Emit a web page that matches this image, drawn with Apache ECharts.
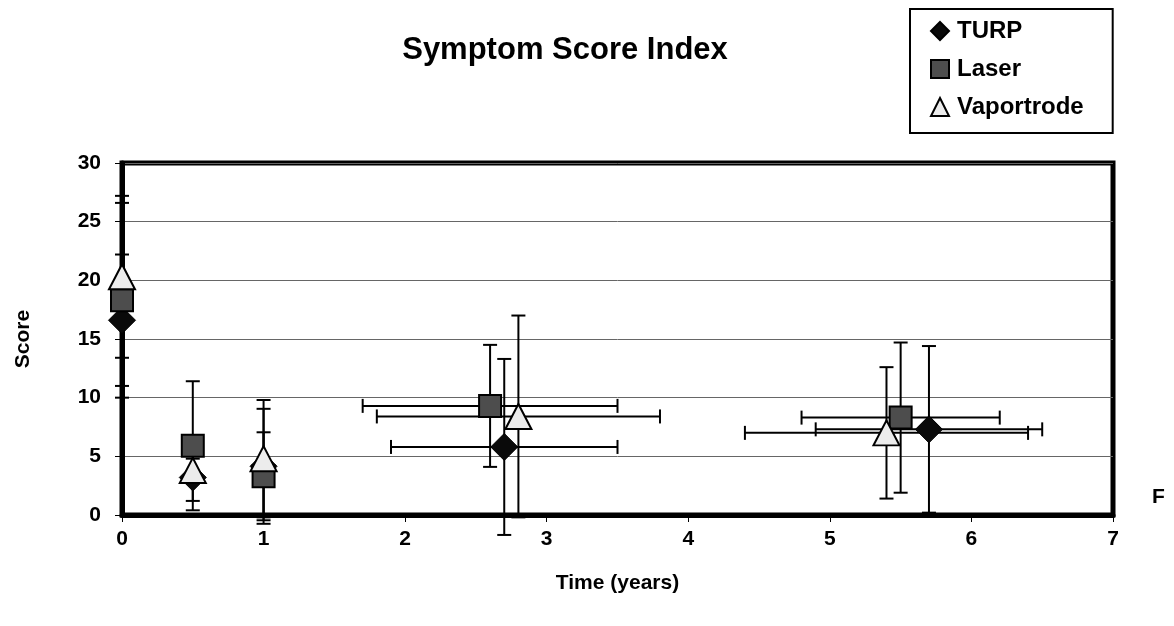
<!DOCTYPE html>
<html>
<head>
<meta charset="utf-8">
<script src="https://cdn.jsdelivr.net/npm/echarts@6/dist/echarts.min.js"></script>
<style>
  html, body { margin: 0; padding: 0; background: #fff; }
  #chart { width: 1174px; height: 626px; }
</style>
</head>
<body>
<div id="chart"></div>
<script>
// values
const seriesNames = ['TURP', 'Laser', 'Vaportrode'];

const turpX = [0, 0.5, 1, 2.7, 5.7];
const turpY = [16.6, 3.2, 4.15, 5.8, 7.3];
const turpYErr = [5.6, 2.0, 4.9, 7.5, 7.1];
const turpXErr = [0, 0, 0, 0.8, 0.8];

const laserX = [0, 0.5, 1, 2.6, 5.5];
const laserY = [18.3, 5.9, 3.3, 9.3, 8.3];
const laserYErr = [8.3, 5.5, 3.75, 5.2, 6.4];
const laserXErr = [0, 0, 0, 0.9, 0.7];

const vapX = [0, 0.5, 1, 2.8, 5.4];
const vapY = [20.3, 3.8, 4.8, 8.4, 7.0];
const vapYErr = [6.9, 1.0, 5.0, 8.6, 5.6];
const vapXErr = [0, 0, 0, 1.0, 1.0];

const xTicks = [0, 1, 2, 3, 4, 5, 6, 7];
const yTicks = [0, 5, 10, 15, 20, 25, 30];

const font = 'Liberation Sans, Arial, sans-serif';

function points(xs, ys) {
  return xs.map((x, i) => [x, ys[i]]);
}
function errPoints(xs, ys, xe, ye) {
  return xs.map((x, i) => [x, ys[i], xe[i], ye[i]]);
}

// vertical + horizontal error bars with caps
function renderErr(params, api) {
  const x = api.value(0), y = api.value(1), xe = api.value(2), ye = api.value(3);
  const st = { stroke: '#000', lineWidth: 2 };
  const kids = [];
  const cap = 7;
  if (ye > 0) {
    const top = api.coord([x, y + ye]);
    const bot = api.coord([x, y - ye]);
    kids.push({ type: 'line', shape: { x1: top[0], y1: top[1], x2: bot[0], y2: bot[1] }, style: st });
    kids.push({ type: 'line', shape: { x1: top[0] - cap, y1: top[1], x2: top[0] + cap, y2: top[1] }, style: st });
    kids.push({ type: 'line', shape: { x1: bot[0] - cap, y1: bot[1], x2: bot[0] + cap, y2: bot[1] }, style: st });
  }
  if (xe > 0) {
    const l = api.coord([x - xe, y]);
    const r = api.coord([x + xe, y]);
    kids.push({ type: 'line', shape: { x1: l[0], y1: l[1], x2: r[0], y2: r[1] }, style: st });
    kids.push({ type: 'line', shape: { x1: l[0], y1: l[1] - cap, x2: l[0], y2: l[1] + cap }, style: st });
    kids.push({ type: 'line', shape: { x1: r[0], y1: r[1] - cap, x2: r[0], y2: r[1] + cap }, style: st });
  }
  return { type: 'group', children: kids };
}

function errSeries(data) {
  return {
    type: 'custom',
    renderItem: renderErr,
    data: data,
    z: 2,
    clip: false,
    silent: true,
    encode: { x: 0, y: 1 }
  };
}

const chart = echarts.init(document.getElementById('chart'));

const options = {
  animation: false,
  backgroundColor: '#fff',
  title: {
    text: 'Symptom Score Index',
    left: 560,
    top: 30,
    textAlign: 'center',
    textStyle: { fontFamily: font, fontWeight: 'bold', fontSize: 31, color: '#000' }
  },
  legend: {
    data: seriesNames,
    orient: 'vertical',
    left: 910,
    top: 9,
    padding: [10, 29, 14, 20],
    itemGap: 14,
    itemWidth: 18,
    itemHeight: 18,
    borderColor: '#000',
    borderWidth: 2,
    textStyle: { fontFamily: font, fontWeight: 'bold', fontSize: 24, color: '#000', padding: [0, 0, 0, 3] }
  },
  grid: {
    left: 122,
    right: 61,
    top: 163,
    bottom: 111,
    show: true,
    borderColor: '#000',
    borderWidth: 5
  },
  xAxis: {
    type: 'value',
    min: 0,
    max: 7,
    interval: 1,
    name: 'Time (years)',
    nameLocation: 'middle',
    nameGap: 58,
    nameTextStyle: { fontFamily: font, fontWeight: 'bold', fontSize: 21, color: '#000' },
    axisLine: { show: true, lineStyle: { color: '#000', width: 5 } },
    axisTick: { show: true, length: 7, lineStyle: { color: '#000', width: 1 } },
    axisLabel: {
      margin: 14,
      fontFamily: font, fontWeight: 'bold', fontSize: 21, color: '#000',
      formatter: v => xTicks.includes(v) ? String(v) : ''
    },
    splitLine: { show: false }
  },
  yAxis: {
    type: 'value',
    min: 0,
    max: 30,
    interval: 5,
    name: 'Score',
    nameLocation: 'middle',
    nameRotate: 90,
    nameGap: 88,
    nameTextStyle: { fontFamily: font, fontWeight: 'bold', fontSize: 21, color: '#000' },
    axisLine: { show: true, lineStyle: { color: '#000', width: 5 } },
    axisTick: { show: true, length: 7, lineStyle: { color: '#000', width: 1 } },
    axisLabel: {
      margin: 21,
      fontFamily: font, fontWeight: 'bold', fontSize: 21, color: '#000',
      formatter: v => yTicks.includes(v) ? String(v) : ''
    },
    splitLine: { show: true, lineStyle: { color: '#666', width: 1 } }
  },
  graphic: [
    {
      type: 'text',
      left: 1152,
      top: 487,
      style: { text: 'F', fontFamily: font, fontWeight: 'bold', fontSize: 21, fill: '#000' }
    }
  ],
  series: [
    errSeries(errPoints(turpX, turpY, turpXErr, turpYErr)),
    errSeries(errPoints(laserX, laserY, laserXErr, laserYErr)),
    errSeries(errPoints(vapX, vapY, vapXErr, vapYErr)),
    {
      name: 'TURP',
      type: 'scatter',
      symbol: 'diamond',
      symbolSize: [27, 27],
      data: points(turpX, turpY),
      z: 5,
      itemStyle: { color: '#0a0a0a', borderColor: '#000', borderWidth: 1, opacity: 1 }
    },
    {
      name: 'Laser',
      type: 'scatter',
      symbol: 'rect',
      symbolSize: [22, 22],
      data: points(laserX, laserY),
      z: 5,
      itemStyle: { color: '#4d4d4d', borderColor: '#000', borderWidth: 2, opacity: 1 }
    },
    {
      name: 'Vaportrode',
      type: 'scatter',
      symbol: 'triangle',
      symbolSize: [26, 25],
      data: points(vapX, vapY),
      z: 5,
      itemStyle: { color: '#ececec', borderColor: '#000', borderWidth: 2, opacity: 1 }
    }
  ]
};

chart.setOption(options);
</script>
</body>
</html>
